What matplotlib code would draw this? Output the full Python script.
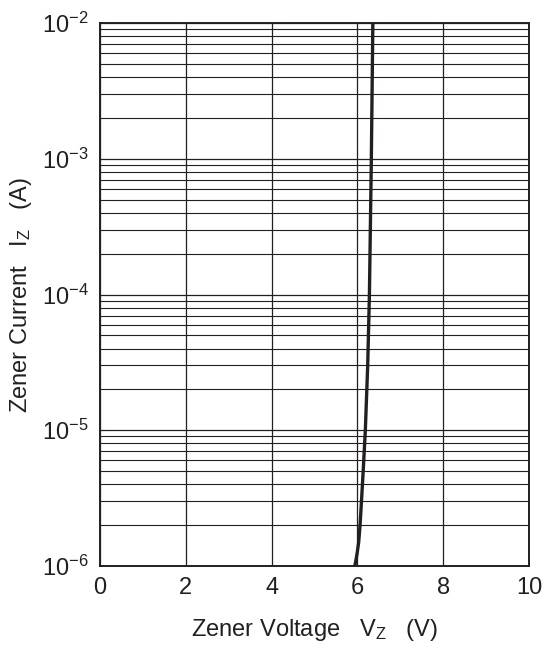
import matplotlib
matplotlib.use('Agg')
import matplotlib.pyplot as plt
import numpy as np

# Zener characteristic
current = [1e-6, 1.1e-6, 1.25e-6, 1.5e-6, 2e-6, 3e-6, 5e-6, 1e-5, 3e-5, 1e-4, 1e-3, 1e-2]
voltage = [5.94, 5.965, 5.995, 6.03, 6.062, 6.095, 6.135, 6.185, 6.24, 6.28, 6.325, 6.36]

x_ticks = [0, 2, 4, 6, 8, 10]
y_ticks = [1e-6, 1e-5, 1e-4, 1e-3, 1e-2]
y_labels = ['$10^{-6}$', '$10^{-5}$', '$10^{-4}$', '$10^{-3}$', '$10^{-2}$']

plt.rcParams['font.family'] = ['Liberation Sans', 'DejaVu Sans']
plt.rcParams['mathtext.fontset'] = 'custom'
plt.rcParams['mathtext.rm'] = 'Liberation Sans'
plt.rcParams['mathtext.it'] = 'Liberation Sans'
plt.rcParams['mathtext.default'] = 'regular'

fig = plt.figure(figsize=(5.44, 6.53), dpi=100)
ax = fig.add_axes([100/544, 1 - 566/653, 429/544, 543/653])

ax.set_xlim(0, 10)
ax.set_yscale('log')
ax.set_ylim(1e-6, 1e-2)

ax.set_xticks(x_ticks)
ax.set_yticks(y_ticks)
ax.set_yticklabels(y_labels)
ax.tick_params(axis='both', which='both', length=0, labelsize=17, colors='#231f20')
ax.tick_params(axis='x', pad=8)
ax.tick_params(axis='y', pad=8)

ax.grid(True, which='major', color='#231f20', lw=0.9)
ax.grid(True, which='minor', axis='y', color='#231f20', lw=0.8)

for s in ax.spines.values():
    s.set_linewidth(1.4)
    s.set_color('#231f20')

ax.plot(voltage, current, color='#231f20', lw=2.4, zorder=5)

ax.set_xlabel('Zener Voltage   V$_Z$   (V)', fontsize=17, color='#231f20', labelpad=13)
ax.set_ylabel('Zener Current   I$_Z$   (A)', fontsize=17, color='#231f20', labelpad=6)

fig.savefig('out.png', dpi=100)
